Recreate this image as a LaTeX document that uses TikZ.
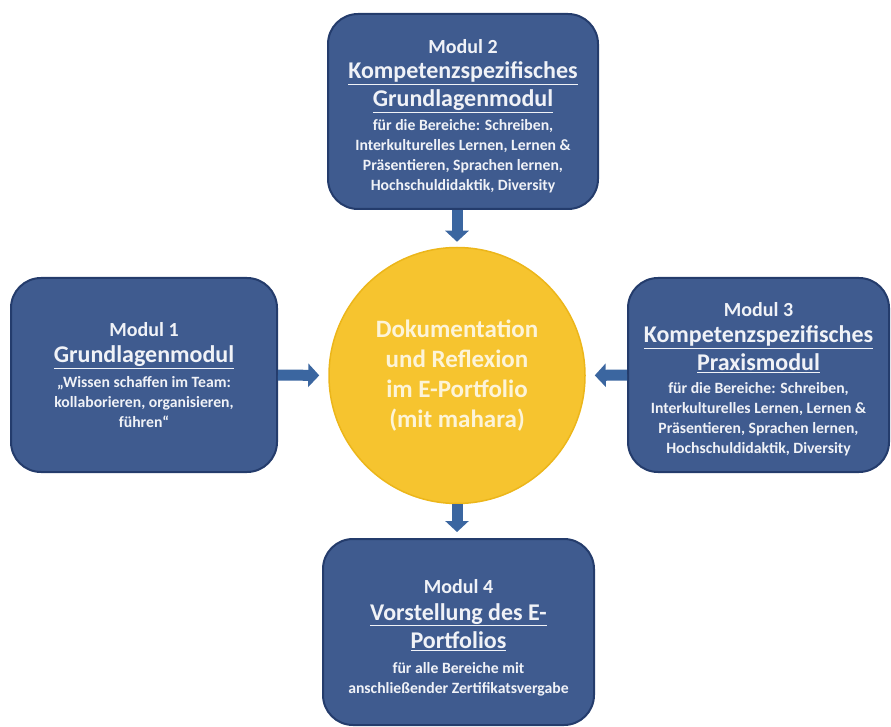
\documentclass[tikz,border=0pt]{standalone}
\usepackage{fontspec}
\setmainfont{Carlito}
\usepackage{tikz}
\usetikzlibrary{arrows.meta}

\definecolor{modblue}{HTML}{3F5B8F}
\definecolor{modedge}{HTML}{243C6C}
\definecolor{modtext}{HTML}{F0F2F7}
\definecolor{docyellow}{HTML}{F6C42F}
\definecolor{docedge}{HTML}{ECB61A}
\definecolor{doctext}{HTML}{FDF4D8}
\definecolor{flowblue}{HTML}{3B66A0}

\newcommand{\tightlines}{\lineskiplimit -100pt\relax}
\newcommand{\modhead}[1]{{\fontsize{20}{20}\selectfont #1}}
\newcommand{\modtitle}[1]{{\fontsize{24}{20}\selectfont\underline{#1}}}

\begin{document}
\begin{tikzpicture}[x=1pt,y=-1pt,
    modbox/.style={draw=modedge, line width=2pt, fill=modblue, rounded corners=30pt,
        text=modtext, align=center, inner sep=0pt,
        font=\bfseries\fontsize{15.7}{20}\selectfont\tightlines},
    docnode/.style={circle, draw=docedge, line width=1.5pt, fill=docyellow,
        minimum size=256pt, text=doctext, align=center, inner sep=0pt,
        font=\bfseries\fontsize{25}{30}\selectfont\tightlines},
    flow/.style={draw=flowblue, line width=11pt,
        -{Triangle[width=23pt,length=11pt]}}]
    \useasboundingbox (0,0) rectangle (891,727);

    \node [docnode] (doc) at (457,375.5) {Dokumentation\\und Reflexion\\im E-Portfolio\\(mit mahara)};

    \node [modbox, minimum width=270pt, minimum height=195pt] (m2) at (463,111.5)
        {\rule{0pt}{24pt}\modhead{Modul 2}\\[5pt] \modtitle{Kompetenzspezifisches}\\[8pt] \modtitle{Grundlagenmodul}\\[4pt]
         für die Bereiche: Schreiben,\\ Interkulturelles Lernen, Lernen \&\\
         Präsentieren, Sprachen lernen,\\ Hochschuldidaktik, Diversity};
    \node [modbox, minimum width=266pt, minimum height=194pt] (m1) at (144,375)
        {\modhead{Modul 1}\\[6pt] \modtitle{Grundlagenmodul}\\[5pt]
         „Wissen schaffen im Team:\\ kollaborieren, organisieren,\\ führen“};
    \node [modbox, minimum width=261pt, minimum height=194pt] (m3) at (758.5,375)
        {\rule{0pt}{23pt}\modhead{Modul 3}\\[6pt] \modtitle{Kompetenzspezifisches}\\[8pt] \modtitle{Praxismodul}\\[3pt]
         für die Bereiche: Schreiben,\\ Interkulturelles Lernen, Lernen \&\\
         Präsentieren, Sprachen lernen,\\ Hochschuldidaktik, Diversity};
    \node [modbox, minimum width=271pt, minimum height=186pt] (m4) at (458.5,632)
        {\rule{0pt}{25pt}\modhead{Modul 4}\\[7pt] \modtitle{Vorstellung des E-}\\[8pt] \modtitle{Portfolios}\\[5pt]
         für alle Bereiche mit\\ anschließender Zertifikatsvergabe};

    % arrows into and out of the portfolio
    \draw [flow, shorten >=5pt] (m2.south -| doc.north) -- (doc.north);
    \draw [flow, shorten >=9pt] (m1.east) -- (doc.west);
    \draw [flow, shorten >=9pt] (m3.west) -- (doc.east);
    \draw [flow, shorten >=6pt] (doc.south) -- (doc.south |- m4.north);
\end{tikzpicture}
\end{document}
